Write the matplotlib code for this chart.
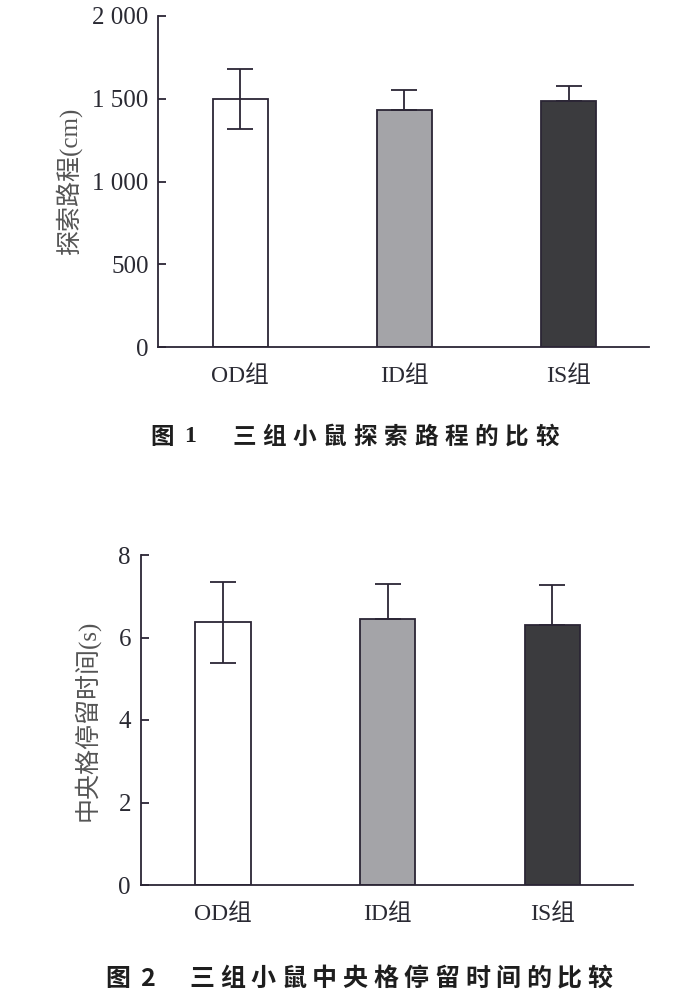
import matplotlib
matplotlib.use("Agg")
import matplotlib.pyplot as plt

# ---------------- data ----------------
groups = ["OD组", "ID组", "IS组"]
path_mean = [1500, 1430, 1485]
path_sd = [180, 125, 90]
path_ticks = [0, 500, 1000, 1500, 2000]
path_ticklabels = ["0", "500", "1 000", "1 500", "2 000"]
path_ylabel = "探索路程(cm)"
caption1_num = "图 1"
caption1_text = "三组小鼠探索路程的比较"

time_mean = [6.37, 6.44, 6.31]
time_sd = [0.98, 0.86, 0.96]
time_ticks = [0, 2, 4, 6, 8]
time_ticklabels = ["0", "2", "4", "6", "8"]
time_ylabel = "中央格停留时间(s)"
caption2_num = "图 2"
caption2_text = "三组小鼠中央格停留时间的比较"

bar_colors = ["#ffffff", "#a4a4a8", "#3b3b3e"]
INK = "#2b2535"

SERIF_CJK = ["Liberation Serif", "Noto Sans CJK SC"]

W, H = 678, 998
fig = plt.figure(figsize=(W / 100, H / 100), dpi=100)
fig.patch.set_facecolor("white")


def draw_panel(rect, means, sds, ticks, ticklabels, ylim, ylabel, ylabel_xy):
    ax = fig.add_axes(rect)
    x = list(range(len(groups)))
    ax.bar(x, means, width=0.335, color=bar_colors, edgecolor=INK,
           linewidth=1.3, zorder=2)
    lower = [s if c == "#ffffff" else 0 for s, c in zip(sds, bar_colors)]
    ax.errorbar(x, means, yerr=[lower, sds], fmt="none", ecolor=INK,
                elinewidth=1.3, capsize=9.7, capthick=1.3, zorder=3)
    ax.set_xlim(-0.5, 2.49)
    ax.set_ylim(*ylim)
    for s in ["top", "right"]:
        ax.spines[s].set_visible(False)
    for s in ["left", "bottom"]:
        ax.spines[s].set_color(INK)
        ax.spines[s].set_linewidth(1.3)
    ax.set_yticks(ticks)
    ax.set_yticklabels(ticklabels, family="Liberation Serif", fontsize=18,
                       color="#2a2a33")
    ax.tick_params(axis="y", direction="in", length=6, width=1.3,
                   color=INK, pad=7)
    ax.set_xticks(x)
    ax.set_xticklabels(groups, family=SERIF_CJK, fontsize=17,
                       color="#2a2a33")
    ax.tick_params(axis="x", length=0, pad=13)
    ax.set_ylabel(ylabel, family=SERIF_CJK, fontsize=18, color="#555555")
    ax.yaxis.set_label_coords(*ylabel_xy)
    return ax


# top panel
ax1 = draw_panel([158.3 / W, (H - 347) / H, (649 - 158.3) / W, 331 / H],
                 path_mean, path_sd, path_ticks, path_ticklabels, (0, 2000),
                 path_ylabel, (-0.155, 0.5))

# bottom panel
ax2 = draw_panel([140.7 / W, (H - 885) / H, (633 - 140.7) / W, 330 / H],
                 time_mean, time_sd, time_ticks, time_ticklabels, (0, 8),
                 time_ylabel, (-0.083, 0.5))


def caption(num, text, y, num_x, first_x, pitch, size, num_family):
    yf = 1 - y / H
    fig.text(num_x[0] / W, yf, num[0], family="Noto Sans CJK SC",
             fontweight="bold", fontsize=size, ha="center", va="center",
             color="#1e1e1e")
    fig.text(num_x[1] / W, yf, num[-1], family=num_family,
             fontweight="bold", fontsize=size, ha="center", va="center",
             color="#1e1e1e")
    for i, ch in enumerate(text):
        fig.text((first_x + i * pitch) / W, yf, ch, family="Noto Sans CJK SC",
                 fontweight="bold", fontsize=size, ha="center", va="center",
                 color="#1e1e1e")


caption(caption1_num, caption1_text, 437, (162.5, 190), 244, 30.3, 17,
        "Liberation Serif")
caption(caption2_num, caption2_text, 979, (118, 147), 202, 30.6, 18,
        "Noto Sans CJK SC")

fig.savefig("out.png", dpi=100, facecolor="white")
